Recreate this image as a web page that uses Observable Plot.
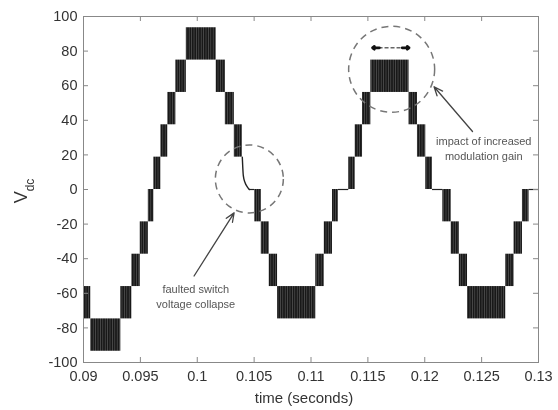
<!DOCTYPE html>
<html><head><meta charset="utf-8">
<script src="https://cdn.jsdelivr.net/npm/d3@7"></script>
<script src="https://cdn.jsdelivr.net/npm/@observablehq/plot@0.6"></script>
<style>
html,body{margin:0;padding:0;background:#fff;}
#chart svg{display:block;filter:blur(0.4px);}
</style></head><body><div id="chart"></div>
<script>
// PWM bands: start time, end time, lower level, upper level (V)
const blockStart = [0.09000,0.09064,0.09328,0.09425,0.09499,0.09570,0.09618,0.09680,0.09741,0.09812,0.09904,0.10167,0.10247,0.10326,
  0.10506,0.10563,0.10633,0.10706,0.11042,0.11117,0.11189,0.11332,0.11389,0.11453,0.11526,0.11862,0.11936,0.12009,
  0.12159,0.12233,0.12304,0.12376,0.12712,0.12785,0.12859];
const blockEnd = [0.09064,0.09328,0.09425,0.09499,0.09570,0.09618,0.09680,0.09741,0.09812,0.09904,0.10167,0.10247,0.10326,0.10396,
  0.10563,0.10633,0.10706,0.11042,0.11117,0.11189,0.11240,0.11389,0.11453,0.11526,0.11862,0.11936,0.12009,0.12068,
  0.12233,0.12304,0.12376,0.12712,0.12785,0.12859,0.12917];
const blockLow = [-74.8,-93.5,-74.8,-56.1,-37.4,-18.7,0,18.7,37.4,56.1,74.8,56.1,37.4,18.7,
  -18.7,-37.4,-56.1,-74.8,-56.1,-37.4,-18.7,0,18.7,37.4,56.1,37.4,18.7,0,
  -18.7,-37.4,-56.1,-74.8,-56.1,-37.4,-18.7];
const blockHigh = [-56.1,-74.8,-56.1,-37.4,-18.7,0,18.7,37.4,56.1,74.8,93.5,74.8,56.1,37.4,
  0,-18.7,-37.4,-56.1,-37.4,-18.7,0,18.7,37.4,56.1,74.8,56.1,37.4,18.7,
  0,-18.7,-37.4,-56.1,-37.4,-18.7,0];
// flat zero-level stretches
const flatStart = [0.10458,0.11240,0.12068,0.12917];
const flatEnd   = [0.10506,0.11332,0.12159,0.13000];
// faulted switch collapse trace
const faultT = [0.10396,0.10400,0.10405,0.10420,0.10440,0.10458];
const faultV = [18.7,13,8,4,1.5,0];
// ticks
const xTicks = [0.09,0.095,0.1,0.105,0.11,0.115,0.12,0.125,0.13];
const yTicks = [-100,-80,-60,-40,-20,0,20,40,60,80,100];
// annotations
const noteText = ["faulted switch\nvoltage collapse","impact of increased\nmodulation gain"];
const noteT = [0.09987,0.12519];
const noteV = [-61.6,24.3];
const ptrT1 = [0.09972,0.12420], ptrV1 = [-50.0,33.5];
const ptrT2 = [0.10324,0.12082], ptrV2 = [-13.5,59.4];
const circT = [0.10458,0.11709], circV = [6.1,69.5];
const spanT = [0.11541,0.11862], spanV = 81.9;

const blocks = blockStart.map((t0,i)=>({t0, t1: blockEnd[i], lo: blockLow[i], hi: blockHigh[i]}));
const flats = flatStart.map((t0,i)=>({t0, t1: flatEnd[i]}));
const fault = faultT.map((t,i)=>({t, v: faultV[i]}));
const notes = noteText.map((text,i)=>({text, t: noteT[i], v: noteV[i]}));
const ptrs = ptrT1.map((t,i)=>({x1:t, y1:ptrV1[i], x2:ptrT2[i], y2:ptrV2[i]}));
const spanHeads = [
  {x1: spanT[0] + 0.0006, x2: spanT[0]},
  {x1: spanT[1] - 0.0006, x2: spanT[1]}
];

const innerW = 558-83-20, innerH = 410-16-48;
const font = "'Liberation Sans', Arial, sans-serif";

const chart = Plot.plot({
  width: 558, height: 410,
  marginLeft: 83, marginRight: 20, marginTop: 16, marginBottom: 48,
  style: {fontFamily: font, fontSize: "14.5px", color: "#333", background: "#fff"},
  x: {domain: [0.09, 0.13]},
  y: {domain: [-100, 100]},
  marks: [
    Plot.rect(blocks, {x1:"t0", x2:"t1", y1:"lo", y2:"hi", fill:"url(#pwm)"}),
    Plot.ruleY(flats, {y: 0, x1:"t0", x2:"t1", stroke:"#222", strokeWidth:1.2}),
    Plot.line(fault, {x:"t", y:"v", stroke:"#222", strokeWidth:1.4, curve:"monotone-x"}),
    Plot.dot([{t:circT[0], v:circV[0]}], {x:"t", y:"v", r:34, stroke:"#777", strokeWidth:1.5, strokeDasharray:"7,5", fill:"none"}),
    Plot.dot([{t:circT[1], v:circV[1]}], {x:"t", y:"v", r:43, stroke:"#777", strokeWidth:1.5, strokeDasharray:"7,5", fill:"none"}),
    Plot.link([{x1:spanT[0], x2:spanT[1]}], {x1:"x1", x2:"x2", y1:spanV, y2:spanV, stroke:"#666", strokeWidth:1.5, strokeDasharray:"4,2"}),
    Plot.arrow(spanHeads, {x1:"x1", x2:"x2", y1:spanV, y2:spanV, stroke:"#111", strokeWidth:2.8, headLength:11, headAngle:75}),
    Plot.arrow(ptrs, {x1:"x1", y1:"y1", x2:"x2", y2:"y2", stroke:"#444", strokeWidth:1.3, headLength:11, headAngle:45}),
    Plot.text(notes, {x:"t", y:"v", text:"text", fontSize:11, lineHeight:1.36, fill:"#555"}),
    Plot.frame({stroke:"#888"}),
    Plot.tickX(xTicks, {x: d=>d, insetTop: innerH-5, stroke:"#888"}),
    Plot.tickX(xTicks, {x: d=>d, insetBottom: innerH-5, stroke:"#888"}),
    Plot.tickY(yTicks, {y: d=>d, insetRight: innerW-5, stroke:"#888"}),
    Plot.tickY(yTicks, {y: d=>d, insetLeft: innerW-5, stroke:"#888"}),
    Plot.axisX(xTicks, {tickSize:0, tickPadding:8, tickFormat: d=>String(+d.toFixed(3)), label:null, fill:"#333"}),
    Plot.axisY(yTicks, {tickSize:0, tickPadding:6, tickFormat: d=>String(d), label:null, fill:"#333"})
  ]
});

const svg = d3.select(chart);
svg.insert("defs", ":first-child").html(
  '<pattern id="pwm" patternUnits="userSpaceOnUse" width="2.4" height="6">' +
  '<rect width="2.4" height="6" fill="#181818"></rect>' +
  '<rect x="1.7" width="0.6" height="6" fill="#5e5e5e"></rect></pattern>');
const yl = svg.append("text").attr("transform","translate(27,191) rotate(-90)")
  .attr("text-anchor","middle").attr("fill","#333")
  .style("font-size","18px").style("font-family", font);
yl.append("tspan").text("V");
yl.append("tspan").attr("baseline-shift","sub").style("font-size","12px").text("dc");
svg.append("text").attr("x",304).attr("y",403).attr("text-anchor","middle").attr("fill","#333")
  .style("font-size","15px").style("font-family", font)
  .text("time (seconds)");
document.getElementById("chart").appendChild(chart);
</script></body></html>
